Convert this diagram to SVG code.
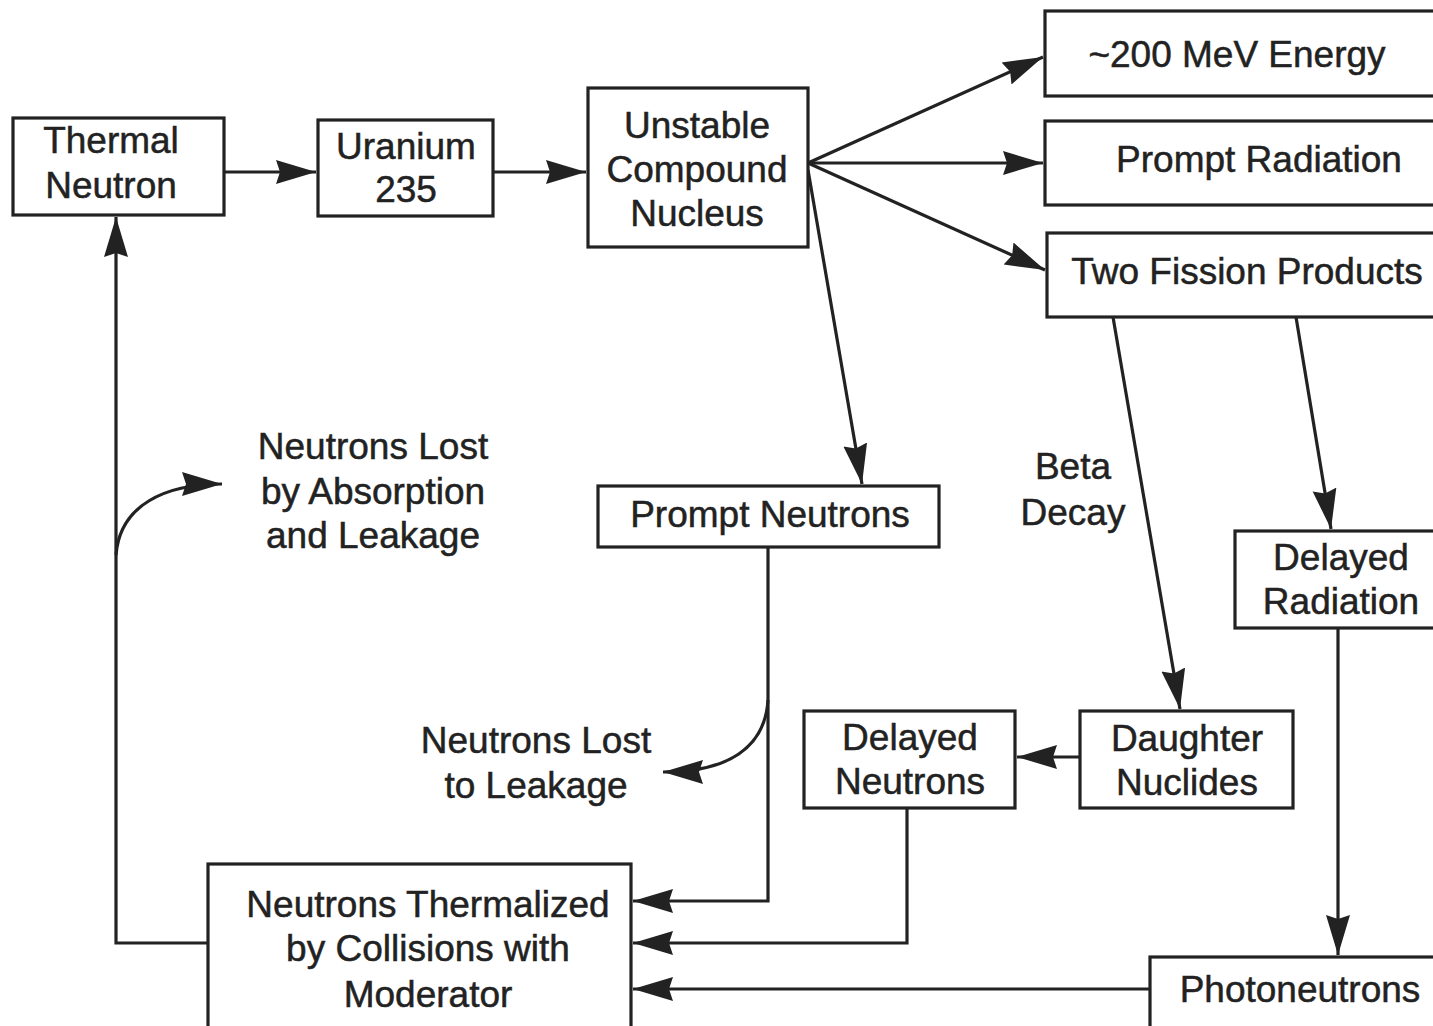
<svg xmlns="http://www.w3.org/2000/svg" width="1433" height="1026" viewBox="0 0 1433 1026">
<style>
.box{fill:#fff;stroke:#222;stroke-width:3.2}
.t{font-family:"Liberation Sans",Arial,sans-serif;font-size:37px;fill:#222;stroke:#222;stroke-width:0.5;text-anchor:middle}
.c{fill:none;stroke:#222;stroke-width:3.2;marker-end:url(#ah)}
</style>
<defs>
<marker id="ah" markerUnits="userSpaceOnUse" markerWidth="42" markerHeight="26" refX="40" refY="13" orient="auto">
<path d="M0,1 L40,13 L0,25 L4,13 z" fill="#222"/>
</marker>
</defs>
<rect width="1433" height="1026" fill="#fff"/>
<g id="connectors">
<path class="c" d="M224,172 H316"/>
<path class="c" d="M493,172 H586"/>
<path class="c" d="M808,163 L1043,57"/>
<path class="c" d="M808,163 H1043"/>
<path class="c" d="M808,163 L1045,270"/>
<path class="c" d="M808,170 L862,484"/>
<path class="c" d="M1113,317 L1180,709"/>
<path class="c" d="M1296,317 L1331,529"/>
<path class="c" d="M1338,628 V955"/>
<path class="c" d="M1080,757 H1017"/>
<path class="c" d="M768,547 V901 H633"/>
<path class="c" d="M907,808 V943 H633"/>
<path class="c" d="M1150,989 H633"/>
<path class="c" d="M208,943 H116 V217"/>
<path class="c" d="M116,555 C120,505 165,484 222,484"/>
<path class="c" d="M768,700 C765,748 728,772 663,772"/>
</g>
<g id="thermal-neutron"><rect class="box" x="13" y="118" width="211" height="97"/><text class="t" x="111" y="153">Thermal</text><text class="t" x="111" y="198">Neutron</text></g>
<g id="uranium"><rect class="box" x="318" y="120" width="175" height="96"/><text class="t" x="406" y="159">Uranium</text><text class="t" x="406" y="202">235</text></g>
<g id="compound"><rect class="box" x="588" y="88" width="220" height="159"/><text class="t" x="697" y="138">Unstable</text><text class="t" x="697" y="182">Compound</text><text class="t" x="697" y="226">Nucleus</text></g>
<g id="energy"><rect class="box" x="1045" y="11" width="400" height="85"/><text class="t" x="1237" y="67">~200 MeV Energy</text></g>
<g id="prompt-radiation"><rect class="box" x="1045" y="121" width="400" height="84"/><text class="t" x="1259" y="172">Prompt Radiation</text></g>
<g id="fission-products"><rect class="box" x="1047" y="233" width="400" height="84"/><text class="t" x="1247" y="284">Two Fission Products</text></g>
<g id="lost-absorption"><text class="t" x="373" y="459">Neutrons Lost</text><text class="t" x="373" y="504">by Absorption</text><text class="t" x="373" y="548">and Leakage</text></g>
<g id="prompt-neutrons"><rect class="box" x="598" y="486" width="341" height="61"/><text class="t" x="770" y="527">Prompt Neutrons</text></g>
<g id="beta-decay"><text class="t" x="1073" y="479">Beta</text><text class="t" x="1073" y="525">Decay</text></g>
<g id="delayed-radiation"><rect class="box" x="1235" y="531" width="210" height="97"/><text class="t" x="1341" y="570">Delayed</text><text class="t" x="1341" y="614">Radiation</text></g>
<g id="lost-leakage"><text class="t" x="536" y="753">Neutrons Lost</text><text class="t" x="536" y="798">to Leakage</text></g>
<g id="delayed-neutrons"><rect class="box" x="804" y="711" width="211" height="97"/><text class="t" x="910" y="750">Delayed</text><text class="t" x="910" y="794">Neutrons</text></g>
<g id="daughter"><rect class="box" x="1080" y="711" width="213" height="97"/><text class="t" x="1187" y="751">Daughter</text><text class="t" x="1187" y="795">Nuclides</text></g>
<g id="thermalized"><rect class="box" x="208" y="864" width="423" height="180"/><text class="t" x="428" y="917">Neutrons Thermalized</text><text class="t" x="428" y="961">by Collisions with</text><text class="t" x="428" y="1007">Moderator</text></g>
<g id="photoneutrons"><rect class="box" x="1150" y="957" width="295" height="90"/><text class="t" x="1300" y="1002">Photoneutrons</text></g>
</svg>
